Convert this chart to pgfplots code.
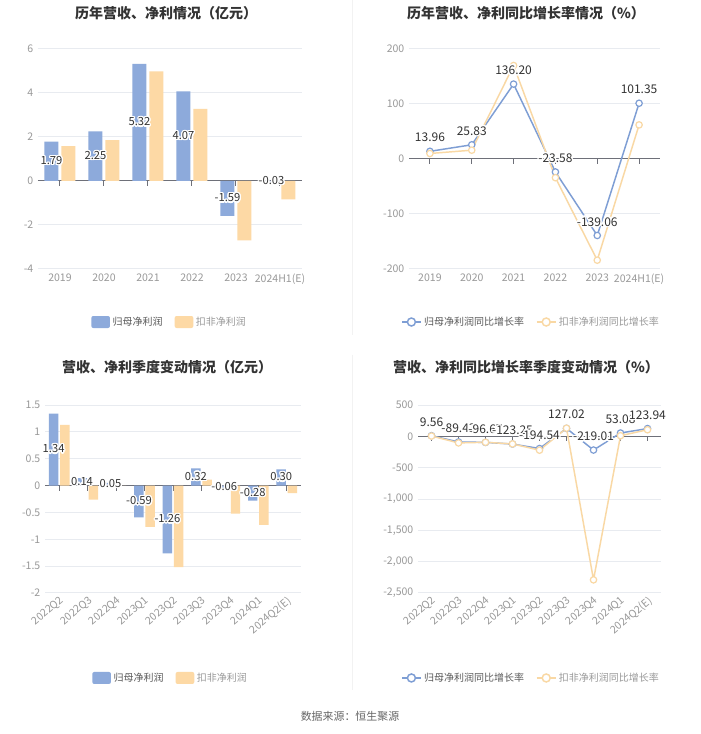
\documentclass[border=0pt]{standalone}
\usepackage{pgfplots}
\pgfplotsset{compat=1.18}
\usepackage{fontspec}
\setmainfont{Noto Sans CJK SC}
\usepackage{contour}
\contourlength{1pt}
\definecolor{cblue}{HTML}{8DAADB}
\definecolor{corange}{HTML}{FDD9A5}
\definecolor{lblue}{HTML}{7E9ED4}
\definecolor{lorange}{HTML}{F9D8A4}
\definecolor{gridc}{HTML}{E8EBF0}
\definecolor{axisc}{HTML}{6E7079}
\definecolor{tickc}{HTML}{999999}
\definecolor{titlec}{HTML}{333333}
\definecolor{labc}{HTML}{333333}
\pgfplotsset{
  base/.style={
    scale only axis, anchor=south west,
    axis line style={draw=none},
    major tick style={draw=none},
    ymajorgrids, grid style={gridc, line width=0.75pt},
    tick label style={font=\fontsize{7.9}{9}\selectfont, color=tickc},
    /pgf/number format/assume math mode=true,
    scaled y ticks=false,
    clip=false,
    xtick=data,
    legend style={draw=none, fill=none, font=\fontsize{7.5}{9}\selectfont, legend columns=2,
      /tikz/every even column/.append style={column sep=7pt}},
    legend cell align=left,
  },
  barlab/.style={forget plot, draw=none, mark=none, point meta=explicit symbolic,
    nodes near coords={\contour{white}{\pgfplotspointmeta}},
    nodes near coords style={anchor=center, font=\fontsize{8.4}{9}\selectfont, text=labc}},
  linelab/.style={forget plot, draw=none, mark=none, point meta=explicit symbolic,
    nodes near coords={\contour{white}{\pgfplotspointmeta}},
    nodes near coords style={anchor=center, yshift=9.75pt, font=\fontsize{9}{10}\selectfont, text=labc}},
  bleg/.style={legend image code/.code={\fill[#1, rounded corners=1.5pt] (0pt,-4.5pt) rectangle (14pt,4.5pt);}},
  lleg/.style={legend image code/.code={\draw[#1, line width=1.1pt] (0pt,0pt) -- (14pt,0pt); \draw[#1, line width=1.1pt, fill=white] (7pt,0pt) circle (3pt);}},
}
\begin{document}
\begin{tikzpicture}
\path[fill=white, use as bounding box] (0pt,0pt) rectangle (525pt,550.5pt);
\draw[color=black!5, line width=0.75pt] (264.4pt,550.5pt) -- (264.4pt,299.25pt);
\draw[color=black!5, line width=0.75pt] (264.4pt,284.25pt) -- (264.4pt,33pt);

% Chart 1
\begin{axis}[base, at={(28.5pt,348.75pt)}, width=198pt, height=165pt,
  xmin=-0.5, xmax=5.5, ymin=-4, ymax=6, ytick={-4,-2,0,2,4,6},
  xticklabels={2019,2020,2021,2022,2023,2024H1(E)},
  legend style={at={(0.5,-0.241)}, anchor=center}]
\draw[axisc, line width=0.75pt] (axis cs:-0.5,0) -- (axis cs:5.5,0);
\pgfplotsinvokeforeach{0,...,5}{\draw[axisc, line width=0.75pt] (axis cs:#1,0) -- ++(0pt,-3.75pt);}
\addplot[ybar, bar width=10.5pt, bar shift=-6.375pt, fill=cblue, draw=none, bleg=cblue] coordinates {(0,1.79) (1,2.25) (2,5.32) (3,4.07) (4,-1.59) (5,-0.03)};
\addlegendentry{\textcolor{black!65}{归母净利润}}
\addplot[ybar, bar width=10.5pt, bar shift=6.375pt, fill=corange, draw=none, bleg=corange] coordinates {(0,1.59) (1,1.86) (2,4.98) (3,3.28) (4,-2.70) (5,-0.84)};
\addlegendentry{\textcolor{black!40}{扣非净利润}}
\addplot[barlab, nodes near coords style={xshift=-6.375pt}] table[x=x, y expr=\thisrow{y}/2, meta=l] {
x y l
0 1.79 1.79
1 2.25 2.25
2 5.32 5.32
3 4.07 4.07
4 -1.59 -1.59
5 -0.03 -0.03
};
\end{axis}

% Chart 2
\begin{axis}[base, at={(306.75pt,348.75pt)}, width=188.25pt, height=165pt,
  xmin=-0.5, xmax=5.5, ymin=-200, ymax=200, ytick={-200,-100,0,100,200},
  xticklabels={2019,2020,2021,2022,2023,2024H1(E)},
  legend style={at={(0.488,-0.241)}, anchor=center}]
\draw[axisc, line width=0.75pt] (axis cs:-0.5,0) -- (axis cs:5.5,0);
\pgfplotsinvokeforeach{0,...,5}{\draw[axisc, line width=0.75pt] (axis cs:#1,0) -- ++(0pt,-3.75pt);}
\addplot[lblue, line width=1.1pt, mark=*, mark size=2.4pt, mark options={fill=white, draw=lblue, line width=0.9pt}, lleg=lblue] coordinates {(0,13.96) (1,25.83) (2,136.20) (3,-23.58) (4,-139.06) (5,101.35)};
\addlegendentry{\textcolor{black!65}{归母净利润同比增长率}}
\addplot[lorange, line width=1.1pt, mark=*, mark size=2.4pt, mark options={fill=white, draw=lorange, line width=0.9pt}, lleg=lorange] coordinates {(0,10) (1,16) (2,170) (3,-34) (4,-184) (5,62)};
\addlegendentry{\textcolor{black!40}{扣非净利润同比增长率}}
\addplot[linelab] table[x=x, y=y, meta=l] {
x y l
0 13.96 13.96
1 25.83 25.83
2 136.20 136.20
3 -23.58 -23.58
4 -139.06 -139.06
5 101.35 101.35
};
\end{axis}

% Chart 3
\begin{axis}[base, at={(33.75pt,105.75pt)}, width=192pt, height=141pt,
  xmin=-0.5, xmax=8.5, ymin=-2, ymax=1.5, ytick={-2,-1.5,-1,-0.5,0,0.5,1,1.5},
  xticklabels={2022Q2,2022Q3,2022Q4,2023Q1,2023Q2,2023Q3,2023Q4,2024Q1,2024Q2(E)},
  xticklabel style={rotate=40, anchor=north east, inner sep=1pt},
  legend style={at={(0.492,-0.452)}, anchor=center}]
\draw[axisc, line width=0.75pt] (axis cs:-0.5,0) -- (axis cs:8.5,0);
\pgfplotsinvokeforeach{0,...,8}{\draw[axisc, line width=0.75pt] (axis cs:#1,0) -- ++(0pt,-3.75pt);}
\addplot[ybar, bar width=7.1pt, bar shift=-4.2pt, fill=cblue, draw=none, bleg=cblue] coordinates {(0,1.34) (1,0.14) (2,0.05) (3,-0.59) (4,-1.26) (5,0.32) (6,-0.06) (7,-0.28) (8,0.30)};
\addlegendentry{\textcolor{black!65}{归母净利润}}
\addplot[ybar, bar width=7.1pt, bar shift=4.2pt, fill=corange, draw=none, bleg=corange] coordinates {(0,1.13) (1,-0.26) (2,0) (3,-0.77) (4,-1.52) (5,0.11) (6,-0.52) (7,-0.73) (8,-0.14)};
\addlegendentry{\textcolor{black!40}{扣非净利润}}
\addplot[barlab, nodes near coords style={xshift=-4.2pt}] table[x=x, y expr=\thisrow{y}/2, meta=l] {
x y l
0 1.34 1.34
1 0.14 0.14
2 0.05 0.05
3 -0.59 -0.59
4 -1.26 -1.26
5 0.32 0.32
6 -0.06 -0.06
7 -0.28 -0.28
8 0.30 0.30
};
\end{axis}

% Chart 4
\begin{axis}[base, at={(313.5pt,105.75pt)}, width=182.25pt, height=141pt,
  xmin=-0.5, xmax=8.5, ymin=-2500, ymax=500, ytick={-2500,-2000,-1500,-1000,-500,0,500},
  /pgf/number format/1000 sep={,},
  xticklabels={2022Q2,2022Q3,2022Q4,2023Q1,2023Q2,2023Q3,2023Q4,2024Q1,2024Q2(E)},
  xticklabel style={rotate=40, anchor=north east, inner sep=1pt},
  legend style={at={(0.467,-0.452)}, anchor=center}]
\draw[axisc, line width=0.75pt] (axis cs:-0.5,0) -- (axis cs:8.5,0);
\pgfplotsinvokeforeach{0,...,8}{\draw[axisc, line width=0.75pt] (axis cs:#1,0) -- ++(0pt,-3.75pt);}
\addplot[lblue, line width=1.1pt, mark=*, mark size=2.4pt, mark options={fill=white, draw=lblue, line width=0.9pt}, lleg=lblue] coordinates {(0,9.56) (1,-89.43) (2,-96.67) (3,-123.25) (4,-194.54) (5,127.02) (6,-219.01) (7,53.08) (8,123.94)};
\addlegendentry{\textcolor{black!65}{归母净利润同比增长率}}
\addplot[lorange, line width=1.1pt, mark=*, mark size=2.4pt, mark options={fill=white, draw=lorange, line width=0.9pt}, lleg=lorange] coordinates {(0,5) (1,-105) (2,-95) (3,-121) (4,-221) (5,130) (6,-2290) (7,10) (8,105)};
\addlegendentry{\textcolor{black!40}{扣非净利润同比增长率}}
\addplot[linelab] table[x=x, y=y, meta=l] {
x y l
0 9.56 9.56
1 -89.43 -89.43
2 -96.67 -96.67
3 -123.25 -123.25
4 -194.54 -194.54
5 127.02 127.02
6 -219.01 -219.01
7 53.08 53.08
8 123.94 123.94
};
\end{axis}

\node[font=\bfseries\fontsize{10.5}{12}\selectfont, text=titlec] at (124.5pt,540.75pt) {历年营收、净利情况（亿元）};
\node[font=\bfseries\fontsize{10.5}{12}\selectfont, text=titlec] at (394.5pt,540.75pt) {历年营收、净利同比增长率情况（\%）};
\node[font=\bfseries\fontsize{10.5}{12}\selectfont, text=titlec] at (125.25pt,275.25pt) {营收、净利季度变动情况（亿元）};
\node[font=\bfseries\fontsize{10.5}{12}\selectfont, text=titlec] at (394.5pt,275.25pt) {营收、净利同比增长率季度变动情况（\%）};
\node[font=\fontsize{8.2}{10}\selectfont, text=black!60] at (262.5pt,13.5pt) {数据来源：恒生聚源};
\end{tikzpicture}
\end{document}
